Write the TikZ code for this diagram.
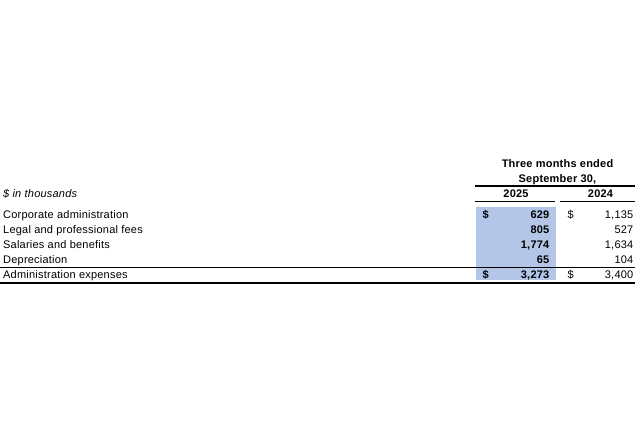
\documentclass[tikz,border=0pt]{standalone}
\usepackage{fontspec}
\setmainfont{Liberation Sans}[LetterSpace=2]
\definecolor{hlblue}{RGB}{180,198,231}
\begin{document}
\begin{tikzpicture}[x=1pt,y=-1pt,
  txt/.style={inner sep=0pt, font=\fontsize{11}{13}\selectfont},
  lbl/.style={txt, anchor=base west},
  num/.style={txt, anchor=base east},
  bnum/.style={txt, anchor=base east, font=\fontsize{11}{13}\selectfont\bfseries},
  dol/.style={txt, anchor=base west},
  bdol/.style={txt, anchor=base west, font=\fontsize{11}{13}\selectfont\bfseries},
  hdr/.style={txt, anchor=base, font=\fontsize{11}{13}\selectfont\bfseries},
  rule/.style={line width=1.4pt},
  thinrule/.style={line width=0.8pt},
  thickrule/.style={line width=2pt}]
\useasboundingbox (0,0) rectangle (640,440);
% highlight
\fill[hlblue] (476,206.7) rectangle (555.5,280.3);
% rules
\draw[rule] (475,186) -- (635,186);
\draw[rule] (475,201.5) -- (555,201.5);
\draw[rule] (560,201.5) -- (635,201.5);
\draw[thinrule] (0,267.7) -- (635,267.7);
\draw[thickrule] (0,283.2) -- (635,283.2);
% headers
\node[hdr] (h1) at (557.5,167.7) {Three months ended};
\node[hdr] (h2) at (557.5,182.7) {September 30,};
\node[hdr] (y1) at (516,197.5) {2025};
\node[hdr] (y2) at (600.5,197.5) {2024};
\node[lbl, font=\fontsize{11}{13}\selectfont\itshape] (unit) at (3,197.5) {\$ in thousands};
% rows
\node[lbl] (r1) at (3,218.3) {Corporate administration};
\node[lbl] (r2) at (3,233.3) {Legal and professional fees};
\node[lbl] (r3) at (3,248.3) {Salaries and benefits};
\node[lbl] (r4) at (3,263.3) {Depreciation};
\node[lbl] (r5) at (3,278.3) {Administration expenses};
% 2025
\node[bdol] (d1a) at (482.5,218.3) {\$};
\node[bnum] (v1a) at (549.5,218.3) {629};
\node[bnum] (v2a) at (549.5,233.3) {805};
\node[bnum] (v3a) at (549.5,248.3) {1,774};
\node[bnum] (v4a) at (549.5,263.3) {65};
\node[bdol] (d5a) at (482.5,278.3) {\$};
\node[bnum] (v5a) at (549.5,278.3) {3,273};
% 2024
\node[dol] (d1b) at (567.5,218.3) {\$};
\node[num] (v1b) at (633.5,218.3) {1,135};
\node[num] (v2b) at (633.5,233.3) {527};
\node[num] (v3b) at (633.5,248.3) {1,634};
\node[num] (v4b) at (633.5,263.3) {104};
\node[dol] (d5b) at (567.5,278.3) {\$};
\node[num] (v5b) at (633.5,278.3) {3,400};
\end{tikzpicture}
\end{document}
